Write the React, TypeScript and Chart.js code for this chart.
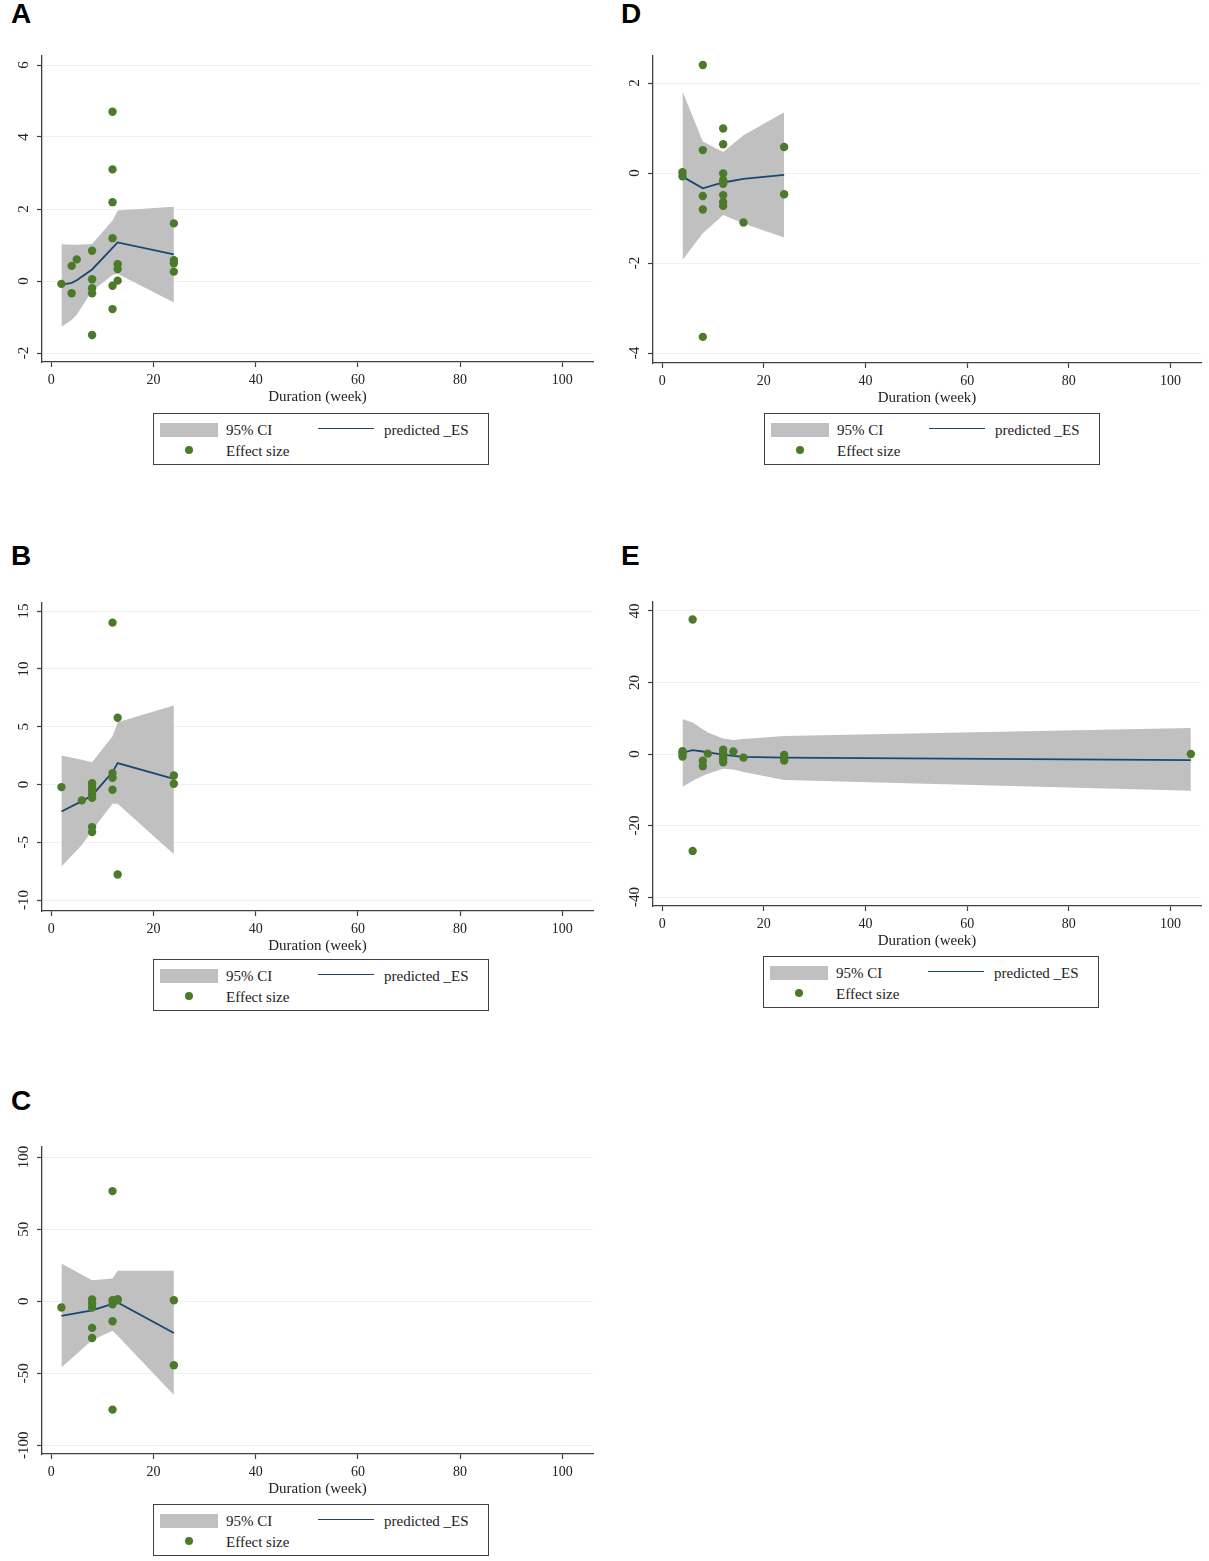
import { useEffect, useRef } from "react"
import { Chart, registerables } from "chart.js"

Chart.register(...registerables)

const xTicks = [0, 20, 40, 60, 80, 100]
const xTitle = "Duration (week)"
const ciLabel = "95% CI"
const fitLabel = "predicted _ES"
const dotLabel = "Effect size"

// A
const aDuration = [2, 4, 4, 5, 8, 8, 8, 8, 8, 12, 12, 12, 12, 12, 12, 13, 13, 13, 24, 24, 24, 24]
const aEffect = [-0.08, 0.42, -0.34, 0.6, 0.84, 0.05, -0.2, -0.34, -1.5, 4.7, 3.1, 2.19, 1.19, -0.13, -0.78, 0.47, 0.33, 0.01, 1.6, 0.58, 0.49, 0.26]
const aFitX = [2, 4, 5, 8, 12, 13, 24]
const aFit = [-0.11, -0.05, 0.02, 0.32, 0.92, 1.07, 0.74]
const aUpper = [1.02, 1.01, 1.01, 1.03, 1.68, 1.96, 2.06]
const aLower = [-1.27, -1.08, -0.94, -0.28, 0.17, 0.2, -0.6]
const aYTicks = [-2, 0, 2, 4, 6]

// B
const bDuration = [2, 6, 8, 8, 8, 8, 8, 8, 8, 12, 12, 12, 12, 13, 13, 24, 24]
const bEffect = [-0.23, -1.38, 0.11, -0.23, -0.52, -0.87, -1.15, -3.69, -4.12, 14.0, 0.98, 0.58, -0.46, 5.77, -7.79, 0.78, 0.06]
const bFitX = [2, 6, 8, 12, 13, 24]
const bFit = [-2.34, -1.44, -0.95, 1.07, 1.85, 0.49]
const bUpper = [2.51, 2.14, 1.93, 4.18, 5.39, 6.83]
const bLower = [-7.1, -5.25, -3.98, -1.67, -1.67, -6.03]
const bYTicks = [-10, -5, 0, 5, 10, 15]

// C
const cDuration = [2, 8, 8, 8, 8, 8, 12, 12, 12, 12, 12, 13, 13, 24, 24]
const cEffect = [-4.4, 1.2, -1.6, -4.4, -18.5, -25.5, 76.4, 0.7, -2.1, -13.9, -75.2, 0.7, 1.4, 0.7, -44.4]
const cFitX = [2, 8, 12, 13, 24]
const cFit = [-10.2, -6.3, -1.8, -0.8, -22]
const cUpper = [26.2, 14.6, 15.7, 21.1, 21.1]
const cLower = [-46, -27, -20.5, -24, -65]
const cYTicks = [-100, -50, 0, 50, 100]

// D
const dDuration = [4, 4, 8, 8, 8, 8, 8, 12, 12, 12, 12, 12, 12, 12, 12, 16, 24, 24]
const dEffect = [0.02, -0.07, 2.4, 0.51, -0.51, -0.81, -3.64, 0.99, 0.64, -0.01, -0.16, -0.24, -0.49, -0.64, -0.73, -1.1, 0.58, -0.47]
const dFitX = [4, 8, 12, 16, 24]
const dFit = [-0.08, -0.34, -0.21, -0.13, -0.04]
const dUpper = [1.81, 0.7, 0.47, 0.84, 1.35]
const dLower = [-1.93, -1.34, -0.93, -1.12, -1.43]
const dYTicks = [-4, -2, 0, 2]

// E
const eDuration = [4, 4, 4, 6, 6, 8, 8, 9, 12, 12, 12, 12, 12, 14, 16, 24, 24, 104]
const eEffect = [0.8, 0, -0.7, 37.6, -27.1, -1.9, -3.4, 0.1, 1.2, 0.3, -0.6, -1.4, -2.3, 0.7, -1.0, -0.3, -1.8, 0]
const eFitX = [4, 6, 8, 9, 12, 14, 16, 24, 104]
const eFit = [0.35, 1.1, 0.7, 0.45, -0.2, -0.55, -0.8, -1.0, -1.7]
const eUpper = [9.8, 8.8, 6.9, 6.0, 4.3, 3.9, 4.2, 5.0, 7.3]
const eLower = [-9.2, -7.5, -6.1, -5.5, -4.1, -4.3, -5.0, -7.3, -10.3]
const eYTicks = [-40, -20, 0, 20, 40]

const panels = [
  { letter: "A", left: 0, letterTop: 0, plotTop: 56, plotBottom: 362, plotRight: 593, yMin: -2.25, yMax: 6.25, yTicks: aYTicks, duration: aDuration, effect: aEffect, fitX: aFitX, fit: aFit, upper: aUpper, lower: aLower, legendLeft: 153, legendTop: 413 },
  { letter: "B", left: 0, letterTop: 542, plotTop: 603, plotBottom: 911, plotRight: 593, yMin: -10.95, yMax: 15.7, yTicks: bYTicks, duration: bDuration, effect: bEffect, fitX: bFitX, fit: bFit, upper: bUpper, lower: bLower, legendLeft: 153, legendTop: 959 },
  { letter: "C", left: 0, letterTop: 1087, plotTop: 1147, plotBottom: 1454, plotRight: 593, yMin: -106, yMax: 107, yTicks: cYTicks, duration: cDuration, effect: cEffect, fitX: cFitX, fit: cFit, upper: cUpper, lower: cLower, legendLeft: 153, legendTop: 1504 },
  { letter: "D", left: 611, letterTop: 0, plotTop: 56, plotBottom: 363, plotRight: 1201, yMin: -4.22, yMax: 2.6, yTicks: dYTicks, duration: dDuration, effect: dEffect, fitX: dFitX, fit: dFit, upper: dUpper, lower: dLower, legendLeft: 764, legendTop: 413 },
  { letter: "E", left: 611, letterTop: 542, plotTop: 602, plotBottom: 906, plotRight: 1201, yMin: -42.5, yMax: 42.5, yTicks: eYTicks, duration: eDuration, effect: eEffect, fitX: eFitX, fit: eFit, upper: eUpper, lower: eLower, legendLeft: 763, legendTop: 956 },
]

const serif = "'Liberation Serif', 'Times New Roman', serif"
const dotColor = "#4b7a2b"
const lineColor = "#1a476f"
const bandColor = "#c0c0c0"
const axisColor = "#404040"
const textColor = "#222"

// Stata-style vertical y labels, centred on the tick
const rotatedYLabels = {
  id: "rotatedYLabels",
  afterDraw(chart: any) {
    const y = chart.scales.y
    const ctx = chart.ctx
    ctx.save()
    ctx.font = `15px ${serif}`
    ctx.fillStyle = textColor
    ctx.textAlign = "center"
    ctx.textBaseline = "middle"
    y.ticks.forEach((t: any) => {
      ctx.save()
      ctx.translate(y.right - 18, y.getPixelForValue(t.value))
      ctx.rotate(-Math.PI / 2)
      ctx.fillText(String(t.value), 0, 0)
      ctx.restore()
    })
    ctx.restore()
  },
}

function Panel({ p }: { p: any }) {
  const chartRef = useRef<HTMLCanvasElement>(null)
  const width = p.plotRight - p.left + 10
  const height = p.plotBottom - p.plotTop + 54

  useEffect(() => {
    if (!chartRef.current) return
    const pts = (xs: number[], ys: number[]) => xs.map((x, i) => ({ x, y: ys[i] }))
    const chart = new Chart(chartRef.current, {
      type: "line",
      data: {
        datasets: [
          {
            label: dotLabel,
            data: pts(p.duration, p.effect),
            showLine: false,
            pointRadius: 4.2,
            pointBackgroundColor: dotColor,
            pointBorderWidth: 0,
            pointBorderColor: dotColor,
          },
          {
            label: fitLabel,
            data: pts(p.fitX, p.fit),
            borderColor: lineColor,
            borderWidth: 1.8,
            pointRadius: 0,
            tension: 0,
            fill: false,
          },
          {
            label: ciLabel,
            data: pts(p.fitX, p.upper),
            borderColor: "rgba(0,0,0,0)",
            borderWidth: 0,
            pointRadius: 0,
            backgroundColor: bandColor,
            fill: "+1",
            tension: 0,
          },
          {
            label: "lower",
            data: pts(p.fitX, p.lower),
            borderColor: "rgba(0,0,0,0)",
            borderWidth: 0,
            pointRadius: 0,
            fill: false,
            tension: 0,
          },
        ],
      },
      options: {
        animation: false,
        responsive: false,
        events: [],
        layout: { padding: { top: 10, right: 10, left: 0, bottom: 0 } },
        plugins: { legend: { display: false }, tooltip: { enabled: false } },
        scales: {
          x: {
            type: "linear",
            min: -1.8,
            max: 106,
            afterBuildTicks: (s: any) => { s.ticks = xTicks.map((value) => ({ value })) },
            afterFit: (s: any) => { s.height = 44 },
            grid: { display: true, drawOnChartArea: false, drawTicks: true, tickLength: 5, tickColor: axisColor, tickWidth: 1.2 },
            border: { display: true, color: axisColor, width: 1.3 },
            ticks: { color: textColor, font: { family: serif, size: 14 }, padding: 5, maxRotation: 0, autoSkip: false },
            title: { display: true, text: xTitle, color: textColor, font: { family: serif, size: 15 }, padding: { top: 0, bottom: 0 } },
          },
          y: {
            type: "linear",
            min: p.yMin,
            max: p.yMax,
            afterBuildTicks: (s: any) => { s.ticks = p.yTicks.map((value: number) => ({ value })) },
            afterFit: (s: any) => { s.width = 42 },
            grid: { color: "#e9f1f2", lineWidth: 1, drawTicks: true, tickLength: 5, tickColor: axisColor, tickWidth: 1.2 },
            border: { display: true, color: axisColor, width: 1.3 },
            ticks: { display: false },
          },
        },
      },
      plugins: [rotatedYLabels],
    } as any)
    return () => chart.destroy()
  }, [p])

  return (
    <>
      <div
        style={{
          position: "absolute",
          left: p.left === 0 ? 11 : 621,
          top: p.letterTop,
          fontFamily: "'Liberation Sans', Arial, sans-serif",
          fontWeight: "bold",
          fontSize: 28,
          lineHeight: "28px",
          color: "#000",
        }}
      >
        {p.letter}
      </div>
      <canvas
        ref={chartRef}
        width={width}
        height={height}
        style={{ position: "absolute", left: p.left, top: p.plotTop - 10, width, height }}
      />
      <Legend left={p.legendLeft} top={p.legendTop} />
    </>
  )
}

function Legend({ left, top }: { left: number; top: number }) {
  const text = { position: "absolute" as const, fontFamily: serif, fontSize: 15, lineHeight: "18px", color: textColor, whiteSpace: "nowrap" as const }
  return (
    <div style={{ position: "absolute", left, top, width: 336, height: 52, border: `1px solid ${axisColor}`, boxSizing: "border-box" }}>
      <div style={{ position: "absolute", left: 6, top: 9, width: 58, height: 14, background: bandColor }} />
      <span style={{ ...text, left: 72, top: 7 }}>{ciLabel}</span>
      <div style={{ position: "absolute", left: 164, top: 14, width: 56, height: 0, borderTop: `1.6px solid ${lineColor}` }} />
      <span style={{ ...text, left: 230, top: 7 }}>{fitLabel}</span>
      <div style={{ position: "absolute", left: 31, top: 32, width: 8, height: 8, borderRadius: "50%", background: dotColor }} />
      <span style={{ ...text, left: 72, top: 28 }}>{dotLabel}</span>
    </div>
  )
}

export default function App() {
  return (
    <div style={{ position: "absolute", left: 0, top: 0, width: 1209, height: 1561, background: "#fff" }}>
      {panels.map((p) => (
        <Panel key={p.letter} p={p} />
      ))}
    </div>
  )
}
